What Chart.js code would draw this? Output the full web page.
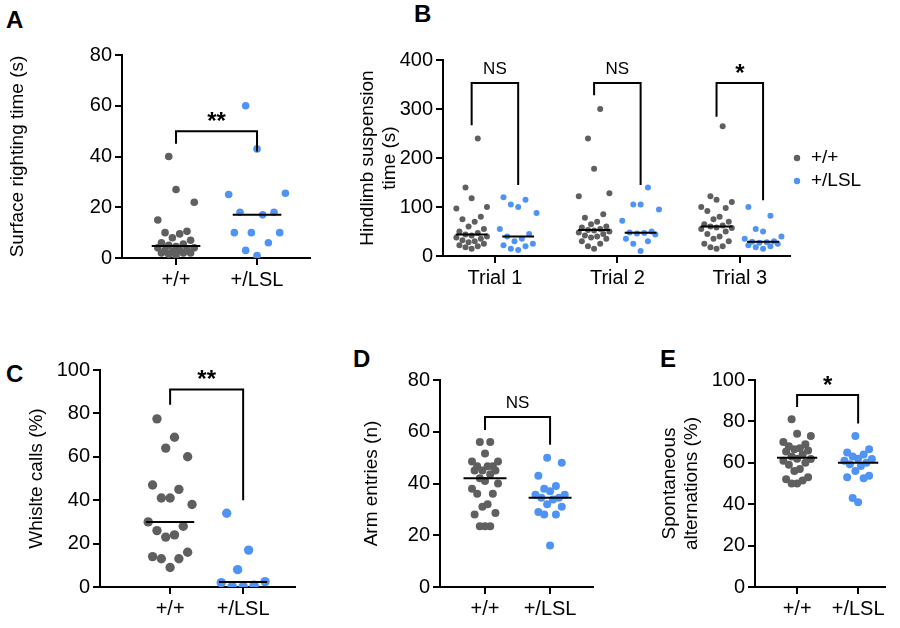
<!DOCTYPE html>
<html><head><meta charset="utf-8">
<script src="https://cdn.jsdelivr.net/npm/chart.js@4"></script>
<style>body{margin:0;background:#fff}canvas{position:absolute;left:0;top:0}
.lbl{position:absolute;font:bold 24px Arial,"Liberation Sans",sans-serif}</style>
</head><body>
<div class="lbl" style="left:6px;top:6px">A</div>
<div class="lbl" style="left:414px;top:0px">B</div>
<div class="lbl" style="left:6px;top:360px">C</div>
<div class="lbl" style="left:353px;top:345px">D</div>
<div class="lbl" style="left:660px;top:345px">E</div>
<canvas id="cA" width="900" height="628"></canvas>
<canvas id="cB" width="900" height="628"></canvas>
<canvas id="cC" width="900" height="628"></canvas>
<canvas id="cD" width="900" height="628"></canvas>
<canvas id="cE" width="900" height="628"></canvas>
<script>
const groups = ["+/+", "+/LSL"];
const trials = ["Trial 1", "Trial 2", "Trial 3"];
// Panel A: surface righting time (s)
const aWT = [40,27,22,15,10.5,10,9.5,8,7,6,5.5,5,4.5,4,4,3.5,3,3,2.5,2,2,2,1.5,1];
const aLSL = [60,43,25.5,25,18,18,17,10,10,10,6,3,1];
// Panel B: hindlimb suspension time (s)
const b1WT = [240,140,118,100,97,80,75,70,60,55,50,47,44,42,40,38,35,32,30,28,25,22,20,18,15];
const b1LSL = [120,115,105,100,88,55,45,40,35,30,25,22,20,15,12];
const b2WT = [300,240,178,128,122,85,78,70,65,60,58,55,53,52,50,48,45,42,40,38,35,30,25,20,15];
const b2LSL = [140,105,105,95,72,50,48,47,46,44,35,30,25,10];
const b3WT = [265,122,115,110,100,98,92,80,75,70,65,62,60,58,57,55,50,45,40,35,30,25,20,18,15];
const b3LSL = [100,82,55,50,40,35,30,29,28,27,25,22,20,18,15];
// Panel C: whistle calls (%)
const cWT = [77.5,69,64,60,47,45,41,41,38,30,28,26,24,23,16,14,13,13,9];
const cLSL = [34,17,8,2.5,2,0.8,0.3,0.3];
// Panel D: arm entries (n)
const dWT = [56,56,51.6,48.5,48.5,46.7,46.7,46.7,45,45,45,43.6,42,41,40,38,36,36,32,31,28.6,28,23.5,23.5,23.5];
const dLSL = [50,48,43,39,38,37,35.7,35.7,34.5,34.5,33.8,32,31,29,28,28,16];
// Panel E: spontaneous alternations (%)
const eWT = [81,74,73,70,69,68,67,66.5,66,65.5,64,63,62,61.8,61,60,59,57,56,53,52,51.5,50,50];
const eLSL = [73,66.5,65,64,63,62,61.8,61,60,59.3,58.5,56,53.7,53,52.5,43,41];

const GRAY='#5f5f5f', BLUE='#4f94f5';
const FONT='Arial, "Liberation Sans", sans-serif';
const jit=[0,-1,1,-2,2,-0.5,0.5,-1.5,1.5,-2.5,2.5];
function swarm(vals,center,w){
  const s=[...vals].sort((a,b)=>a-b);
  return s.map((v,i)=>({x:center+jit[i%jit.length]*w,y:v}));
}
function median(v){const s=[...v].sort((a,b)=>a-b);const n=s.length;return n%2?s[(n-1)/2]:(s[n/2-1]+s[n/2])/2;}
function medLine(vals,center,hw){const m=median(vals);return {type:'line',data:[{x:center-hw,y:m},{x:center+hw,y:m}],borderColor:'#000',borderWidth:2,pointRadius:0,order:-1};}
function pts(vals,center,w,color,r){return {type:'scatter',data:swarm(vals,center,w),backgroundColor:color,borderWidth:0,pointRadius:r};}

const bracketPlugin={id:'br',afterDatasetsDraw(ch){
  const o=ch.options.plugins.br; if(!o)return;
  const c=ch.ctx,X=ch.scales.x,Y=ch.scales.y;
  c.save();c.strokeStyle='#000';c.lineWidth=2;c.fillStyle='#000';
  for(const b of o.items){
    const x1=X.getPixelForValue(b.x1),x2=X.getPixelForValue(b.x2),yt=Y.getPixelForValue(b.top);
    c.beginPath();c.moveTo(x1,Y.getPixelForValue(b.l));c.lineTo(x1,yt);c.lineTo(x2,yt);c.lineTo(x2,Y.getPixelForValue(b.r));c.stroke();
    c.font=(b.t==='NS'?'17px ':'bold 24px ')+FONT;c.textAlign='center';c.textBaseline='bottom';
    c.fillText(b.t,(x1+x2)/2,yt-(b.t==='NS'?5:-3));
  }
  if(o.showLegend){
    c.font='19px '+FONT;c.textBaseline='middle';c.textAlign='left';
    const items=[[groups[0],GRAY],[groups[1],BLUE]];
    items.forEach((l,i)=>{c.fillStyle=l[1];c.beginPath();c.arc(o.lx,o.ly+i*23,3.2,0,7);c.fill();
      c.fillStyle='#000';c.fillText(l[0],o.lx+14,o.ly+i*23);});
  }
  c.restore();
}};
Chart.register(bracketPlugin);

function make(id,cfg){
  const {datasets,pl,pt,pr,pb,yW,xmin,xmax,ymax,ystep,ticks,tickLabels,title,br}=cfg;
  new Chart(document.getElementById(id),{
    data:{datasets},
    options:{responsive:false,animation:false,devicePixelRatio:1,
      layout:{padding:{left:pl,top:pt,right:pr,bottom:pb}},
      plugins:{legend:{display:false},tooltip:{enabled:false},br},
      scales:{
        x:{type:'linear',min:xmin,max:xmax,
          afterBuildTicks:s=>{s.ticks=ticks.map(v=>({value:v}));},
          afterFit:s=>{s.height=40;},
          ticks:{callback:(v)=>tickLabels[ticks.indexOf(v)],color:'#000',font:{size:20,family:FONT},padding:3,autoSkip:false,maxRotation:0},
          grid:{drawOnChartArea:false,drawTicks:true,tickLength:7,color:'#000',lineWidth:2},
          border:{color:'#000',width:2}},
        y:{min:0,max:ymax,afterFit:s=>{s.width=yW;},
          ticks:{stepSize:ystep,color:'#000',font:{size:20,family:FONT},padding:3},
          grid:{drawOnChartArea:false,drawTicks:true,tickLength:7,color:'#000',lineWidth:2},
          border:{color:'#000',width:2},
          title:{display:true,text:title,color:'#000',font:{size:19,family:FONT},padding:{top:0,bottom:4}}}
      }}
  });
}
// A
make('cA',{datasets:[pts(aWT,1,0.09,GRAY,3.8),pts(aLSL,2,0.14,BLUE,3.8),medLine(aWT,1,0.3),medLine(aLSL,2,0.3)],
  pl:6,pt:55,pr:900-310,pb:628-258-40,yW:116,xmin:0.333,xmax:2.654,ymax:80,ystep:20,ticks:[1,2],tickLabels:groups,
  title:'Surface righting time (s)',
  br:{items:[{x1:1,x2:2,top:50,l:45,r:42,t:'**'}]}});
// B
const off=0.19;
make('cB',{datasets:[pts(b1WT,1-off,0.05,GRAY,3),pts(b1LSL,1+off,0.06,BLUE,3),pts(b2WT,2-off,0.05,GRAY,3),pts(b2LSL,2+off,0.06,BLUE,3),pts(b3WT,3-off,0.05,GRAY,3),pts(b3LSL,3+off,0.06,BLUE,3),
  medLine(b1WT,1-off,0.13),medLine(b1LSL,1+off,0.13),medLine(b2WT,2-off,0.13),medLine(b2LSL,2+off,0.13),medLine(b3WT,3-off,0.13),medLine(b3LSL,3+off,0.13)],
  pl:356,pt:60,pr:900-790,pb:628-256-40,yW:87,xmin:0.576,xmax:3.41,ymax:400,ystep:100,ticks:[1,2,3],tickLabels:trials,
  title:['Hindlimb suspension','time (s)'],
  br:{showLegend:true,lx:797,ly:158,items:[{x1:1-off,x2:1+off,top:353,l:267,r:145,t:'NS'},{x1:2-off,x2:2+off,top:353,l:328,r:145,t:'NS'},{x1:3-off,x2:3+off,top:353,l:284,r:114,t:'*'}]}});
// C
make('cC',{datasets:[pts(cWT,1,0.12,GRAY,4.7),pts(cLSL,2,0.15,BLUE,4.7),medLine(cWT,1,0.33),medLine(cLSL,2,0.33)],
  pl:25,pt:370,pr:900-295,pb:628-587-40,yW:75,xmin:0.04,xmax:2.71,ymax:100,ystep:20,ticks:[1,2],tickLabels:groups,
  title:'Whislte calls (%)',
  br:{items:[{x1:1,x2:2,top:91,l:84,r:40,t:'**'}]}});
// D
make('cD',{datasets:[pts(dWT,1,0.08,GRAY,4),pts(dLSL,2,0.09,BLUE,4),medLine(dWT,1,0.33),medLine(dLSL,2,0.33)],
  pl:360,pt:380,pr:900-593,pb:628-587-40,yW:80,xmin:0.308,xmax:2.66,ymax:80,ystep:20,ticks:[1,2],tickLabels:groups,
  title:'Arm entries (n)',
  br:{items:[{x1:1,x2:2,top:65.7,l:60.7,r:55,t:'NS'}]}});
// E
make('cE',{datasets:[pts(eWT,1,0.09,GRAY,4),pts(eLSL,2,0.09,BLUE,4),medLine(eWT,1,0.33),medLine(eLSL,2,0.33)],
  pl:658,pt:380,pr:900-885,pb:628-587-40,yW:97,xmin:0.31,xmax:2.44,ymax:100,ystep:20,ticks:[1,2],tickLabels:groups,
  title:['Spontaneous','alternations (%)'],
  br:{items:[{x1:1,x2:2,top:92.7,l:87,r:79,t:'*'}]}});
</script></body></html>
